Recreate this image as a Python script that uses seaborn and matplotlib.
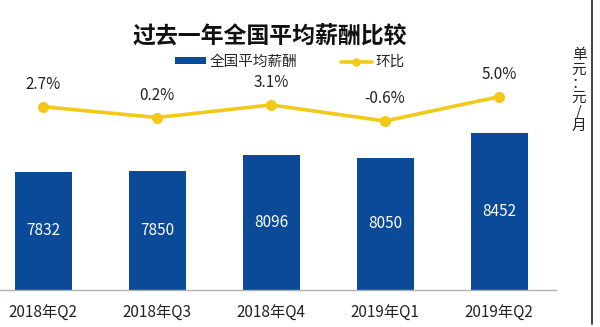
import matplotlib
matplotlib.use("Agg")
import matplotlib.pyplot as plt
from matplotlib.lines import Line2D
from matplotlib.patches import Patch
import seaborn as sns
import pandas as pd

categories = ["2018年Q2", "2018年Q3", "2018年Q4", "2019年Q1", "2019年Q2"]
salary = [7832, 7850, 8096, 8050, 8452]
qoq = [2.7, 0.2, 3.1, -0.6, 5.0]
qoq_labels = ["2.7%", "0.2%", "3.1%", "-0.6%", "5.0%"]

title = "过去一年全国平均薪酬比较"
legend_bar = "全国平均薪酬"
legend_line = "环比"
unit_text = "单\n元\n：\n元\n/\n月"

BLUE = "#0b4a98"
YELLOW = "#f2c919"

sns.set_style("white")
plt.rcParams["font.family"] = ["Noto Sans CJK SC", "DejaVu Sans"]

df = pd.DataFrame({"cat": categories, "salary": salary, "qoq": qoq})

W, H = 600, 327
fig = plt.figure(figsize=(6, 3.27), dpi=100)
fig.patch.set_facecolor("white")
ax = fig.add_axes([-14 / W, (H - 290) / H, 570 / W, 290 / H])

sns.barplot(data=df, x="cat", y="salary", color=BLUE, width=0.5,
            saturation=1, ax=ax, edgecolor="none")
ax.set_ylim(5951, 10561)
ax.set_xlim(-0.5, 4.5)
for i, v in enumerate(salary):
    ax.text(i, (5951 + v) / 2, str(v), color="white", fontsize=11,
            ha="center", va="center")

for s in ["top", "left", "right"]:
    ax.spines[s].set_visible(False)
ax.spines["bottom"].set_color("#b0b0b0")
ax.spines["bottom"].set_linewidth(1.0)
ax.set_yticks([])
ax.set_xlabel("")
ax.set_ylabel("")
ax.set_xticks(range(len(categories)))
ax.set_xticklabels(categories, fontsize=11, color="#222222")
ax.set_xticks([i + 0.5 for i in range(-1, len(categories))], minor=True)
ax.tick_params(axis="x", which="major", length=0, pad=11)
ax.tick_params(axis="x", which="minor", length=4, color="#b0b0b0", width=1,
               direction="out")

ax2 = ax.twinx()
sns.lineplot(data=df, x=list(range(len(categories))), y="qoq", color=YELLOW,
             linewidth=2.6, marker="o", markersize=8, markeredgewidth=0,
             ax=ax2)
ax2.set_ylim(-39.54, 27.28)
ax2.set_xlim(-0.5, 4.5)
for s in ["top", "left", "right", "bottom"]:
    ax2.spines[s].set_visible(False)
ax2.set_yticks([])
ax2.set_ylabel("")
for i, (v, lab) in enumerate(zip(qoq, qoq_labels)):
    ax2.annotate(lab, (i, v), xytext=(0, 16), textcoords="offset points",
                 ha="center", va="center", fontsize=11, color="#222222")

fig.text(270 / W, 1 - 37 / H, title, fontsize=16.5, fontweight="heavy",
         ha="center", va="center", color="#111111")

handles = [Patch(facecolor=BLUE, edgecolor="none"),
           Line2D([0], [0], color=YELLOW, linewidth=2.6, marker="o",
                  markersize=6, markeredgewidth=0)]
leg = fig.legend(handles, [legend_bar, legend_line], ncol=2, loc="center",
                 bbox_to_anchor=(290 / W, 1 - 62 / H), frameon=False,
                 fontsize=10.5, handlelength=2.1, handleheight=0.4,
                 handletextpad=0.25, columnspacing=3.0, borderpad=0)

fig.text(579 / W, 1 - 90.5 / H, unit_text, fontsize=10.5, ha="center",
         va="center", linespacing=1.0, color="#222222")
fig.add_artist(Line2D([591.5 / W, 591.5 / W], [0.01, 1.0], color="#222222",
                      linewidth=1.2, transform=fig.transFigure))

fig.savefig("out.png", dpi=100, facecolor="white")
